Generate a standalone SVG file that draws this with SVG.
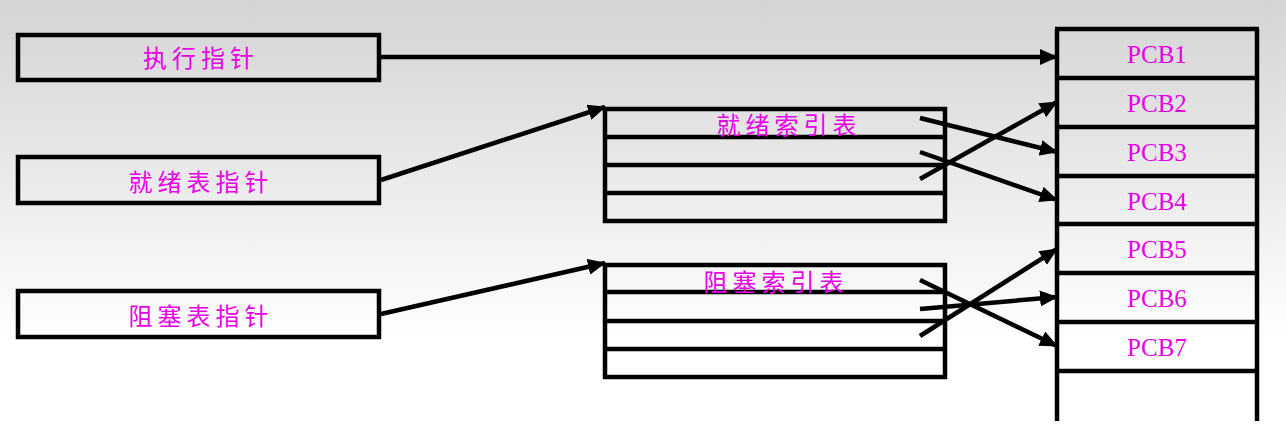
<svg xmlns="http://www.w3.org/2000/svg" width="1286" height="428" viewBox="0 0 1286 428">
<defs>
<linearGradient id="bg" x1="0" y1="0" x2="0" y2="1">
<stop offset="0" stop-color="#d4d4d4"/>
<stop offset="0.45" stop-color="#ececec"/>
<stop offset="0.8" stop-color="#ffffff"/>
<stop offset="1" stop-color="#ffffff"/>
</linearGradient>
<marker id="ah" markerUnits="userSpaceOnUse" markerWidth="18" markerHeight="16" refX="17" refY="8" orient="auto">
<path d="M0,0 L18,8 L0,16 z" fill="#000"/>
</marker>
<style>
.box{fill:none;stroke:#000;stroke-width:4.5}
.ln{fill:none;stroke:#000;stroke-width:4.5}
.cn{fill:none;stroke:#000;stroke-width:4.5;marker-end:url(#ah)}
.cj{font-family:"Noto Sans CJK SC","Noto Sans CJK JP",sans-serif;font-size:24px;letter-spacing:5px;fill:#e600e6;text-anchor:middle}
.pc{font-family:"Liberation Serif",serif;font-size:25px;fill:#e600e6;text-anchor:middle}
</style>
</defs>
<rect x="0" y="0" width="1286" height="428" fill="url(#bg)"/>

<g id="exec-ptr">
<rect class="box" x="18" y="35" width="361" height="45"/>
<text class="cj" x="201" y="67">执行指针</text>
</g>
<g id="ready-ptr">
<rect class="box" x="18" y="157" width="361" height="46"/>
<text class="cj" x="201" y="191">就绪表指针</text>
</g>
<g id="blocked-ptr">
<rect class="box" x="18" y="291" width="361" height="46"/>
<text class="cj" x="201" y="325">阻塞表指针</text>
</g>

<g id="ready-index">
<rect class="box" x="605" y="109" width="340" height="112"/>
<line class="ln" x1="605" y1="137" x2="945" y2="137"/>
<line class="ln" x1="605" y1="165" x2="945" y2="165"/>
<line class="ln" x1="605" y1="193" x2="945" y2="193"/>
<text class="cj" x="789" y="134">就绪索引表</text>
</g>
<g id="blocked-index">
<rect class="box" x="605" y="265" width="340" height="112"/>
<line class="ln" x1="605" y1="292" x2="945" y2="292"/>
<line class="ln" x1="605" y1="321" x2="945" y2="321"/>
<line class="ln" x1="605" y1="349" x2="945" y2="349"/>
<text class="cj" x="776" y="291">阻塞索引表</text>
</g>

<g id="pcb-table">
<line class="ln" x1="1057" y1="29" x2="1057" y2="421"/>
<line class="ln" x1="1257" y1="29" x2="1257" y2="421"/>
<line class="ln" x1="1055" y1="29" x2="1259" y2="29"/>
<line class="ln" x1="1057" y1="78" x2="1257" y2="78"/>
<line class="ln" x1="1057" y1="127" x2="1257" y2="127"/>
<line class="ln" x1="1057" y1="176" x2="1257" y2="176"/>
<line class="ln" x1="1057" y1="224" x2="1257" y2="224"/>
<line class="ln" x1="1057" y1="273" x2="1257" y2="273"/>
<line class="ln" x1="1057" y1="322" x2="1257" y2="322"/>
<line class="ln" x1="1057" y1="371" x2="1257" y2="371"/>
<text class="pc" x="1157" y="63">PCB1</text>
<text class="pc" x="1157" y="112">PCB2</text>
<text class="pc" x="1157" y="161">PCB3</text>
<text class="pc" x="1157" y="210">PCB4</text>
<text class="pc" x="1157" y="258">PCB5</text>
<text class="pc" x="1157" y="307">PCB6</text>
<text class="pc" x="1157" y="356">PCB7</text>
</g>

<g id="connectors">
<line class="cn" x1="379" y1="57" x2="1057" y2="57"/>
<line class="cn" x1="381" y1="180" x2="605" y2="107"/>
<line class="cn" x1="381" y1="314" x2="605" y2="263"/>
<line class="cn" x1="920" y1="118" x2="1057" y2="152"/>
<line class="cn" x1="920" y1="152" x2="1057" y2="200"/>
<line class="cn" x1="920" y1="179" x2="1057" y2="102"/>
<line class="cn" x1="920" y1="280" x2="1057" y2="346"/>
<line class="cn" x1="920" y1="309" x2="1057" y2="297"/>
<line class="cn" x1="920" y1="336" x2="1057" y2="249"/>
</g>
</svg>
